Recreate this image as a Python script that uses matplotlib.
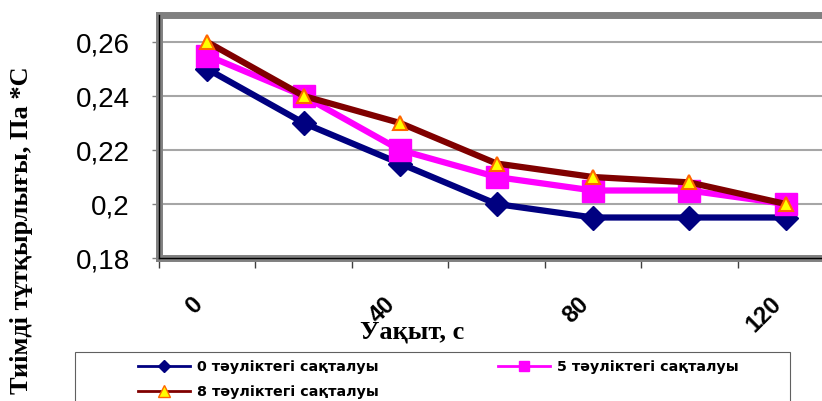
import matplotlib
matplotlib.use("Agg")
import matplotlib.pyplot as plt
from matplotlib.lines import Line2D
from matplotlib.patches import Rectangle
from matplotlib.transforms import ScaledTranslation

# Storage time of the samples (s) and effective viscosity readings
time_s = [0, 20, 40, 60, 80, 100, 120]
time_labels = ["0", "", "40", "", "80", "", "120"]
visc_day0 = [0.250, 0.230, 0.215, 0.200, 0.195, 0.195, 0.195]
visc_day5 = [0.255, 0.240, 0.220, 0.210, 0.205, 0.205, 0.200]
visc_day8 = [0.260, 0.240, 0.230, 0.215, 0.210, 0.208, 0.200]
series_names = ["0 тәуліктегі сақталуы", "5 тәуліктегі сақталуы", "8 тәуліктегі сақталуы"]
y_ticks = [0.18, 0.20, 0.22, 0.24, 0.26]
y_tick_labels = ["0,18", "0,2", "0,22", "0,24", "0,26"]

SERIF = ["Liberation Serif", "DejaVu Serif"]
SANS = ["Liberation Sans", "DejaVu Sans"]

W, H = 822, 401
fig = plt.figure(figsize=(W / 100, H / 100), dpi=100)
ax_left, ax_w, ax_bottom_px, ax_top_px = 159, 675, 258, 15
ax = fig.add_axes([ax_left / W, (H - ax_bottom_px) / H, ax_w / W,
                   (ax_bottom_px - ax_top_px) / H])

x = list(range(len(time_s)))
ax.plot(x, visc_day0, color="#000080", lw=4.5, marker="D", ms=12,
        mfc="#000080", mec="#000080", zorder=3)
ax.plot(x, visc_day5, color="#FF00FF", lw=4.5, marker="s", ms=16.5,
        mfc="#FF00FF", mec="#FF00FF", zorder=4)
ax.plot(x, visc_day8, color="#800000", lw=4.5, marker="^", ms=10,
        mfc="#FFFF00", mec="#FF6600", mew=1.5, zorder=5)

ax.set_xlim(-0.5, len(time_s) - 0.5)
ax.set_ylim(0.18, 0.27)

# y axis
ax.set_yticks(y_ticks, y_tick_labels)
ax.tick_params(axis="y", length=5, width=1, color="#808080", pad=16,
               labelsize=20)
for lbl in ax.get_yticklabels():
    lbl.set_fontfamily(SANS)
ax.yaxis.grid(True, color="#A6A6A6", lw=1.5)
ax.set_axisbelow(True)

# x axis: labels at categories (end-anchored, rotated), tick marks between categories
ax.set_xticks(x, time_labels)
shift = ScaledTranslation(12 / 100, 0, fig.dpi_scale_trans)
for lbl in ax.get_xticklabels():
    lbl.set_fontfamily(SANS)
    lbl.set_fontweight("bold")
    lbl.set_fontsize(17)
    lbl.set_rotation(45)
    lbl.set_ha("right")
    lbl.set_va("top")
    lbl.set_transform(lbl.get_transform() + shift)
ax.tick_params(axis="x", which="major", length=0, pad=25)
ax.set_xticks([i - 0.5 for i in range(len(time_s) + 1)], minor=True)
ax.tick_params(axis="x", which="minor", length=7, width=1, color="#404040")

# plot-area border and axis lines
for s in ax.spines.values():
    s.set_color("#808080")
    s.set_linewidth(5)
ax.plot([0, 0], [0, 1], transform=ax.transAxes, color="black", lw=1,
        zorder=6, clip_on=False)
ax.plot([0, 1], [0, 0], transform=ax.transAxes, color="black", lw=1,
        zorder=6, clip_on=False)

# axis titles
ax.set_xlabel("Уақыт, с", fontsize=19, fontweight="bold", family=SERIF)
ax.xaxis.label.set_va("center")
ax.xaxis.set_label_coords((412 - ax_left) / ax_w, (ax_bottom_px - 332) / (ax_bottom_px - ax_top_px))
ax.set_ylabel("Тиімді тұтқырлығы, Па *С", fontsize=19, fontweight="bold", family=SERIF)
ax.yaxis.label.set_va("center")
ax.yaxis.set_label_coords((22 - ax_left) / ax_w, (ax_bottom_px - 230) / (ax_bottom_px - ax_top_px))

# legend
h0 = Line2D([], [], color="#000080", lw=2, marker="D", ms=6)
h5 = Line2D([], [], color="#FF00FF", lw=2, marker="s", ms=7)
h8 = Line2D([], [], color="#800000", lw=2, marker="^", ms=8,
            mfc="#FFFF00", mec="#FF6600", mew=1)
fig.legend([h0, h8, h5], [series_names[0], series_names[2], series_names[1]],
           ncol=2, loc="upper left", bbox_to_anchor=(138 / W, 1 - 360 / H),
           frameon=False, prop=dict(family="DejaVu Sans", weight="bold", size=10.3),
           handlelength=3.65, handletextpad=0.5, columnspacing=8.3,
           borderpad=0, labelspacing=0.75, borderaxespad=0)
fig.patches.append(Rectangle((75 / W, -0.05), 715 / W, (H - 352) / H + 0.05,
                             transform=fig.transFigure, fill=False,
                             edgecolor="#606060", lw=0.8))

fig.savefig("out.png", dpi=100)
